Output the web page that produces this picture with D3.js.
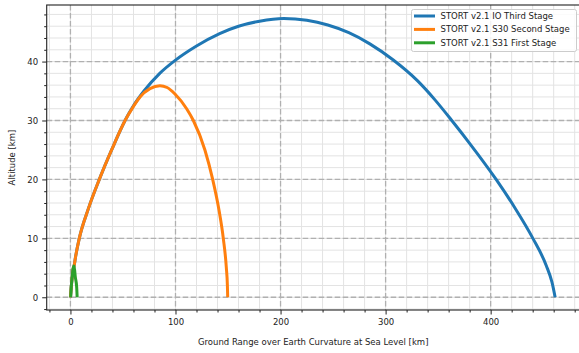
<!DOCTYPE html>
<html>
<head>
<meta charset="utf-8">
<script src="https://cdn.jsdelivr.net/npm/d3@7"></script>
<style>
  html, body { margin: 0; padding: 0; background: #fff; }
  svg { display: block; font-family: "DejaVu Sans", sans-serif; }
</style>
</head>
<body>
<svg id="chart" width="579" height="353"></svg>
<script>
// Trajectories: ground range [km] and altitude [km]
const thirdStageRange = [0, 0.8, 1.7, 2.7, 3.3, 5, 8.4, 17, 27.5, 39.2, 52, 56, 60, 70, 85, 100, 120, 142, 160, 180, 203, 225, 245, 265, 285, 307, 330, 347, 363, 380.5, 405.2, 423, 440.2, 452.9, 458.3, 461.4];
const thirdStageAlt   = [0, 1.8, 3.5, 4.9, 5.2, 7, 10, 15, 20, 25, 30, 31.3, 32.5, 35.0, 38, 40.25, 42.65, 44.75, 46.0, 46.85, 47.3, 47, 46.2, 44.9, 43, 40.3, 36.8, 33.5, 30, 26.0, 20, 15.2, 10, 5.4, 2.6, 0];

const secondStageRange = [0, 0.8, 1.7, 2.7, 3.3, 5, 8.4, 17, 27.5, 39.2, 52, 60, 66.2, 75.7, 85.2, 92, 99.5, 110.6, 117, 128, 135.4, 141.4, 145.5, 148.4, 149.4, 149.7];
const secondStageAlt   = [0, 1.8, 3.5, 4.9, 5.2, 7, 10, 15, 20, 25, 30, 32.4, 34.0, 35.4, 35.9, 35.6, 34.5, 32.0, 30, 25, 20, 14.8, 10, 5, 2, 0];

const firstStageRange = [0.2, 0.8, 1.7, 2.4, 3.2, 4.0, 4.6, 5.9, 6.4];
const firstStageAlt   = [0, 1.8, 3.5, 4.7, 5.3, 4.6, 3.5, 1.8, 0];

const seriesNames  = ["STORT v2.1 IO Third Stage", "STORT v2.1 S30 Second Stage", "STORT v2.1 S31 First Stage"];
const seriesColors = ["#1f77b4", "#ff7f0e", "#2ca02c"];

const xMajorTicks = [0, 100, 200, 300, 400];
const yMajorTicks = [0, 10, 20, 30, 40];
const xMinorTicks = d3.range(-20, 481, 20);
const yMinorTicks = d3.range(-2, 49, 2);

const xLabel = "Ground Range over Earth Curvature at Sea Level [km]";
const yLabel = "Altitude [km]";

const svg = d3.select("#chart");
const plot = { left: 46.7, right: 581, top: 5, bottom: 310 };

const x = d3.scaleLinear().domain([-22.6, 486]).range([plot.left, plot.right]);
const y = d3.scaleLinear().domain([-2.16, 49.6]).range([plot.bottom, plot.top]);

// minor grid
const grid = svg.append("g");
grid.selectAll(".vminor").data(xMinorTicks).enter().append("line")
  .attr("x1", d => x(d)).attr("x2", d => x(d))
  .attr("y1", plot.top).attr("y2", plot.bottom)
  .attr("stroke", "#e3e3e3").attr("stroke-width", 1);
grid.selectAll(".hminor").data(yMinorTicks).enter().append("line")
  .attr("x1", plot.left).attr("x2", plot.right)
  .attr("y1", d => y(d)).attr("y2", d => y(d))
  .attr("stroke", "#e3e3e3").attr("stroke-width", 1);

// major grid (dashed)
grid.selectAll(".vmajor").data(xMajorTicks).enter().append("line")
  .attr("x1", d => x(d)).attr("x2", d => x(d))
  .attr("y1", plot.top).attr("y2", plot.bottom)
  .attr("stroke", "#b0b0b0").attr("stroke-width", 1.3)
  .attr("stroke-dasharray", "5.5,2.5");
grid.selectAll(".hmajor").data(yMajorTicks).enter().append("line")
  .attr("x1", plot.left).attr("x2", plot.right)
  .attr("y1", d => y(d)).attr("y2", d => y(d))
  .attr("stroke", "#b0b0b0").attr("stroke-width", 1.3)
  .attr("stroke-dasharray", "5.5,2.5");

// trajectories, drawn third stage first so the spent stages sit on top
const series = [
  { range: thirdStageRange,  alt: thirdStageAlt },
  { range: secondStageRange, alt: secondStageAlt },
  { range: firstStageRange,  alt: firstStageAlt }
];
const line = d3.line().curve(d3.curveMonotoneX);
series.forEach((s, i) => {
  const pts = s.range.map((r, j) => [x(r), y(s.alt[j])]);
  svg.append("path")
    .attr("d", line(pts))
    .attr("fill", "none")
    .attr("stroke", seriesColors[i])
    .attr("stroke-width", 3)
    .attr("stroke-linejoin", "round")
    .attr("stroke-linecap", "butt");
});

// axes
const xAxis = svg.append("g").attr("transform", `translate(0,${plot.bottom})`)
  .call(d3.axisBottom(x).tickValues(xMajorTicks).tickSize(4.5).tickPadding(4).tickFormat(d3.format("d")));
const xMinor = svg.append("g").attr("transform", `translate(0,${plot.bottom})`)
  .call(d3.axisBottom(x).tickValues(xMinorTicks.filter(d => d % 100 !== 0)).tickSize(2.5).tickFormat(""));
const yAxis = svg.append("g").attr("transform", `translate(${plot.left},0)`)
  .call(d3.axisLeft(y).tickValues(yMajorTicks).tickSize(4.5).tickPadding(4).tickFormat(d3.format("d")));
const yMinor = svg.append("g").attr("transform", `translate(${plot.left},0)`)
  .call(d3.axisLeft(y).tickValues(yMinorTicks.filter(d => d % 10 !== 0)).tickSize(2.5).tickFormat(""));

[xAxis, xMinor, yAxis, yMinor].forEach(g => {
  g.select(".domain").remove();
  g.selectAll(".tick line").attr("stroke", "#222").attr("stroke-width", 1);
  g.selectAll(".tick text").attr("fill", "#222").attr("font-size", "8.5px")
    .attr("font-family", "DejaVu Sans, sans-serif");
});

// spines
svg.append("rect")
  .attr("x", plot.left).attr("y", plot.top)
  .attr("width", plot.right - plot.left).attr("height", plot.bottom - plot.top)
  .attr("fill", "none").attr("stroke", "#222").attr("stroke-width", 1.1);

// axis labels
svg.append("text")
  .attr("x", (plot.left + 580.7) / 2 - 0.5).attr("y", 345)
  .attr("text-anchor", "middle").attr("font-size", "8.5px").attr("fill", "#222")
  .text(xLabel);
svg.append("text")
  .attr("transform", `translate(14.5,${(plot.top + plot.bottom) / 2}) rotate(-90)`)
  .attr("text-anchor", "middle").attr("font-size", "8.5px").attr("fill", "#222")
  .text(yLabel);

// legend
const legend = svg.append("g").attr("transform", "translate(411.5,9.5)");
legend.append("rect")
  .attr("width", 165).attr("height", 42).attr("rx", 2)
  .attr("fill", "#fff").attr("fill-opacity", 0.85)
  .attr("stroke", "#cccccc").attr("stroke-width", 1);
seriesNames.forEach((name, i) => {
  const cy = 6.5 + i * 13.4;
  legend.append("line")
    .attr("x1", 2.5).attr("x2", 23.5).attr("y1", cy).attr("y2", cy)
    .attr("stroke", seriesColors[i]).attr("stroke-width", 3);
  legend.append("text")
    .attr("x", 29).attr("y", cy + 3)
    .attr("font-size", "8.5px").attr("fill", "#222")
    .text(name);
});
</script>
</body>
</html>
